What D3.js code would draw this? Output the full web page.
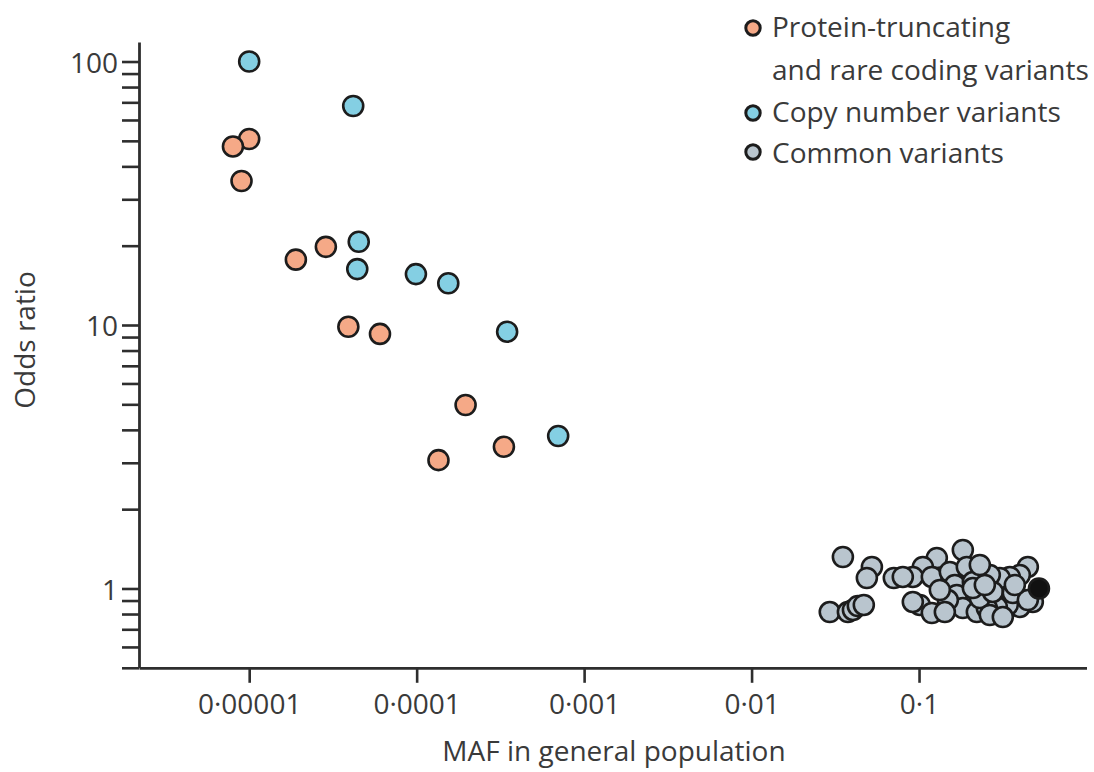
<!DOCTYPE html>
<html>
<head>
<meta charset="utf-8">
<script src="https://cdn.jsdelivr.net/npm/d3@7"></script>
<style>
  html, body { margin: 0; padding: 0; background: #fff; }
  svg { display: block; }
  text { font-family: "Open Sans", sans-serif; fill: #3a3a3a; }
</style>
</head>
<body>
<svg id="chart" width="1094" height="772"></svg>
<script>
// ---- Data ----
const seriesNames = ["Protein-truncating", "and rare coding variants", "Copy number variants", "Common variants"];

// Protein-truncating and rare coding variants
const ptMaf = [1.0e-5, 8.0e-6, 9.0e-6, 1.9e-5, 2.87e-5, 3.91e-5, 6.04e-5, 1.96e-4, 3.32e-4, 1.35e-4];
const ptOR  = [50.8, 47.6, 35.2, 17.7, 19.8, 9.85, 9.25, 4.97, 3.45, 3.07];

// Copy number variants
const cnvMaf = [1.0e-5, 4.18e-5, 4.51e-5, 4.42e-5, 9.9e-5, 1.545e-4, 3.47e-4, 7.0e-4];
const cnvOR  = [100, 67.8, 20.7, 16.3, 15.6, 14.4, 9.43, 3.79];

// Common variants
const cvMaf = [0.0351, 0.0523, 0.0488, 0.0707, 0.0293, 0.0376, 0.0403, 0.0431, 0.0468,
  0.1826, 0.1277, 0.1054, 0.0918, 0.1192, 0.1527, 0.1636, 0.1929, 0.08, 0.1011, 0.1192,
  0.1681, 0.1826, 0.2096, 0.1486, 0.2214, 0.0918, 0.4463, 0.3998, 0.3484, 0.3036, 0.2646,
  0.2307, 0.478, 0.3998, 0.3389, 0.2914, 0.254, 0.2307, 0.2096, 0.2758, 0.3631, 0.2646,
  0.3165, 0.4463, 0.1331, 0.2471, 0.1426, 0.3733];
const cvOR = [1.317, 1.207, 1.096, 1.096, 0.814, 0.814, 0.829, 0.858, 0.866,
  1.400, 1.305, 1.207, 1.106, 1.106, 1.155, 1.031, 1.207, 1.106, 0.866, 0.807,
  0.945, 0.843, 1.058, 0.904, 0.814, 0.889, 1.207, 1.125, 1.106, 1.096, 1.125,
  1.228, 0.889, 0.851, 0.866, 0.851, 0.843, 0.920, 1.004, 0.970, 0.961, 0.793,
  0.779, 0.904, 0.987, 1.031, 0.814, 1.031];

// Highlighted (black) common variant
const refMaf = [0.52];
const refOR = [1.0];

const xTickValues = [1e-5, 1e-4, 1e-3, 1e-2, 1e-1];
const xTickLabels = ["0·00001", "0·0001", "0·001", "0·01", "0·1"];
const yTickValues = [0.5,0.6,0.7,0.8,0.9,1,2,3,4,5,6,7,8,9,10,20,30,40,50,60,70,80,90,100];
const yLabelled = {1: "1", 10: "10", 100: "100"};

const colors = { pt: "#f5a987", cnv: "#84cfe3", cv: "#b9c5ce", ref: "#111111" };

// ---- Chart ----
const svg = d3.select("#chart");
const x = d3.scaleLog().domain([2.198e-6, 1]).range([139, 1086.5]);
const y = d3.scaleLog().domain([0.5, 118.6]).range([667.8, 42]);

const axisColor = "#2e2e2e";

// Y axis
const yAxis = d3.axisLeft(y)
  .tickValues(yTickValues)
  .tickSize(17)
  .tickSizeOuter(0)
  .tickPadding(4)
  .tickFormat(d => yLabelled[d] || "");
const gy = svg.append("g").attr("transform", "translate(139,0)").call(yAxis);
gy.select(".domain").attr("stroke", axisColor).attr("stroke-width", 2.8);
gy.selectAll(".tick line").attr("stroke", axisColor).attr("stroke-width", 2.6);
gy.selectAll(".tick text").attr("font-size", 28).attr("font-family", "Open Sans").attr("fill", "#3a3a3a").attr("dy", "0.38em");

// X axis
const xAxis = d3.axisBottom(x)
  .tickValues(xTickValues)
  .tickSize(15)
  .tickSizeOuter(0)
  .tickPadding(11)
  .tickFormat((d, i) => xTickLabels[i]);
const gx = svg.append("g").attr("transform", "translate(0,667.8)").call(xAxis);
gx.select(".domain").attr("stroke", axisColor).attr("stroke-width", 2.8);
gx.selectAll(".tick line").attr("stroke", axisColor).attr("stroke-width", 2.6);
gx.selectAll(".tick text").attr("font-size", 28).attr("font-family", "Open Sans").attr("fill", "#3a3a3a");

// Axis titles
svg.append("text")
  .attr("x", 614).attr("y", 761)
  .attr("text-anchor", "middle")
  .attr("font-size", 28)
  .text("MAF in general population");

svg.append("text")
  .attr("transform", "translate(35,340) rotate(-90)")
  .attr("text-anchor", "middle")
  .attr("font-size", 28)
  .text("Odds ratio");

// Points
function drawSeries(mafs, ors, fill) {
  svg.append("g").selectAll("circle")
    .data(mafs.map((m, i) => ({ m, o: ors[i] })))
    .join("circle")
    .attr("cx", d => x(d.m))
    .attr("cy", d => y(d.o))
    .attr("r", 10)
    .attr("fill", fill)
    .attr("stroke", "#1c1c1c")
    .attr("stroke-width", 2.6);
}
drawSeries(cvMaf, cvOR, colors.cv);
drawSeries(refMaf, refOR, colors.ref);
drawSeries(ptMaf, ptOR, colors.pt);
drawSeries(cnvMaf, cnvOR, colors.cnv);

// Legend
const legend = svg.append("g");
const legendItems = [
  { c: colors.pt, cy: 28, lines: [[seriesNames[0], 37], [seriesNames[1], 80]] },
  { c: colors.cnv, cy: 113, lines: [[seriesNames[2], 122]] },
  { c: colors.cv, cy: 152, lines: [[seriesNames[3], 163]] }
];
legendItems.forEach(it => {
  legend.append("circle")
    .attr("cx", 753).attr("cy", it.cy).attr("r", 7.2)
    .attr("fill", it.c).attr("stroke", "#1c1c1c").attr("stroke-width", 3);
  it.lines.forEach(([t, yy]) => {
    legend.append("text").attr("x", 772).attr("y", yy).attr("font-size", 28).text(t);
  });
});
</script>
</body>
</html>
